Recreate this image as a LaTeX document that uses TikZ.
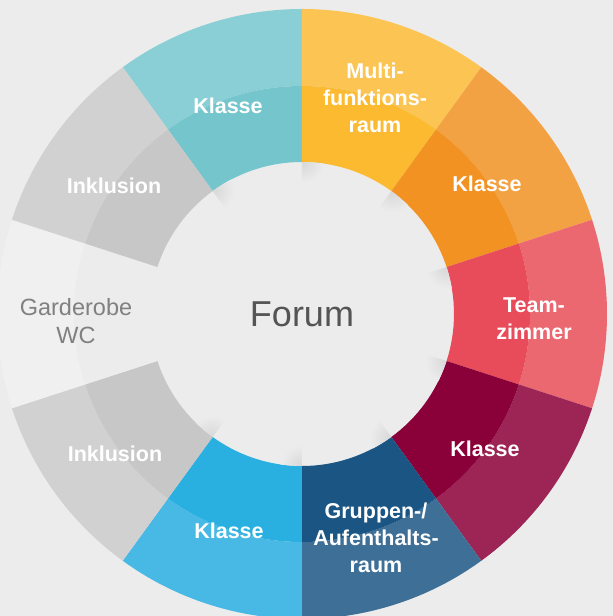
\documentclass[tikz,border=0pt]{standalone}
\usepackage{fontspec}
\setmainfont{Liberation Sans}
\usetikzlibrary{positioning}

\definecolor{bg}{HTML}{ECECEC}
\definecolor{tealL}{HTML}{8BCFD6}
\definecolor{tealD}{HTML}{75C6CC}
\definecolor{yellowL}{HTML}{FCC553}
\definecolor{yellowD}{HTML}{FBBA2F}
\definecolor{orangeL}{HTML}{F3A243}
\definecolor{orangeD}{HTML}{F29223}
\definecolor{redL}{HTML}{EB6871}
\definecolor{redD}{HTML}{E84B59}
\definecolor{wineL}{HTML}{9C2556}
\definecolor{wineD}{HTML}{8A0039}
\definecolor{navyL}{HTML}{3D6F97}
\definecolor{navyD}{HTML}{1A5584}
\definecolor{blueL}{HTML}{48B9E5}
\definecolor{blueD}{HTML}{29B0E0}
\definecolor{grayL}{HTML}{D0D1D0}
\definecolor{grayD}{HTML}{C6C7C6}
\definecolor{wardL}{HTML}{F0F0F0}
\definecolor{wardD}{HTML}{ECECEC}

\tikzset{
    room/.style={font=\bfseries\fontsize{21.5}{27}\selectfont, text=white, align=center, inner sep=0pt},
    side/.style={font=\fontsize{23.5}{28}\selectfont, text=black!50, align=center, inner sep=0pt},
}

\begin{document}
\begin{tikzpicture}[x=1pt, y=1pt]
    \fill[bg] (-302,-302) rectangle (311,314);
    \useasboundingbox (-302,-302) rectangle (311,314);

    % ring: outer band light, inner band dark
    \foreach \a/\cl/\cd [evaluate=\a as \s using \a-18, evaluate=\a as \e using \a+18] in
        {108/tealL/tealD, 72/yellowL/yellowD, 36/orangeL/orangeD,
        0/redL/redD, -36/wineL/wineD, -72/navyL/navyD, -108/blueL/blueD,
        -144/grayL/grayD, 180/wardL/wardD, 144/grayL/grayD} {
        \fill[\cl] (\s:228pt) -- (\s:305pt) arc[start angle=\s, end angle=\e, radius=305pt]
            -- (\e:228pt) arc[start angle=\e, end angle=\s, radius=228pt] -- cycle;
        \fill[\cd] (\s:152pt) -- (\s:228pt) arc[start angle=\s, end angle=\e, radius=228pt]
            -- (\e:152pt) arc[start angle=\e, end angle=\s, radius=152pt] -- cycle;
    }

    % soft shadows where the segments meet the forum
    \begin{scope}
        \clip (0,0) circle (152pt);
        \foreach \b in {126,90,54,18,-18,-54,-90,-126} {
            \begin{scope}
                \clip (0,0) -- (\b:160pt) -- (\b-25:160pt) -- cycle;
                \shade[inner color=black!9!bg, outer color=bg] (\b:153pt) circle (22pt);
            \end{scope}
        }
    \end{scope}

    \node[font=\fontsize{36}{40}\selectfont, text=black!67] (forum) at (0,0) {Forum};

    \node[room] (klasse1) at (-74,208) {Klasse};
    \node[room] (multi) at (73,216) {Multi-\\funktions-\\raum};
    \node[room] (klasse2) at (185,130) {Klasse};
    \node[room] (team) at (232,-5) {Team-\\zimmer};
    \node[room] (klasse3) at (183,-135) {Klasse};
    \node[room] (gruppen) at (74,-224) {Gruppen-/\\Aufenthalts-\\raum};
    \node[room] (klasse4) at (-73,-217) {Klasse};
    \node[room] (inkl1) at (-187,-140) {Inklusion};
    \node[side] (garderobe) at (-226,-7) {Garderobe\\WC};
    \node[room] (inkl2) at (-188,128) {Inklusion};
\end{tikzpicture}
\end{document}
